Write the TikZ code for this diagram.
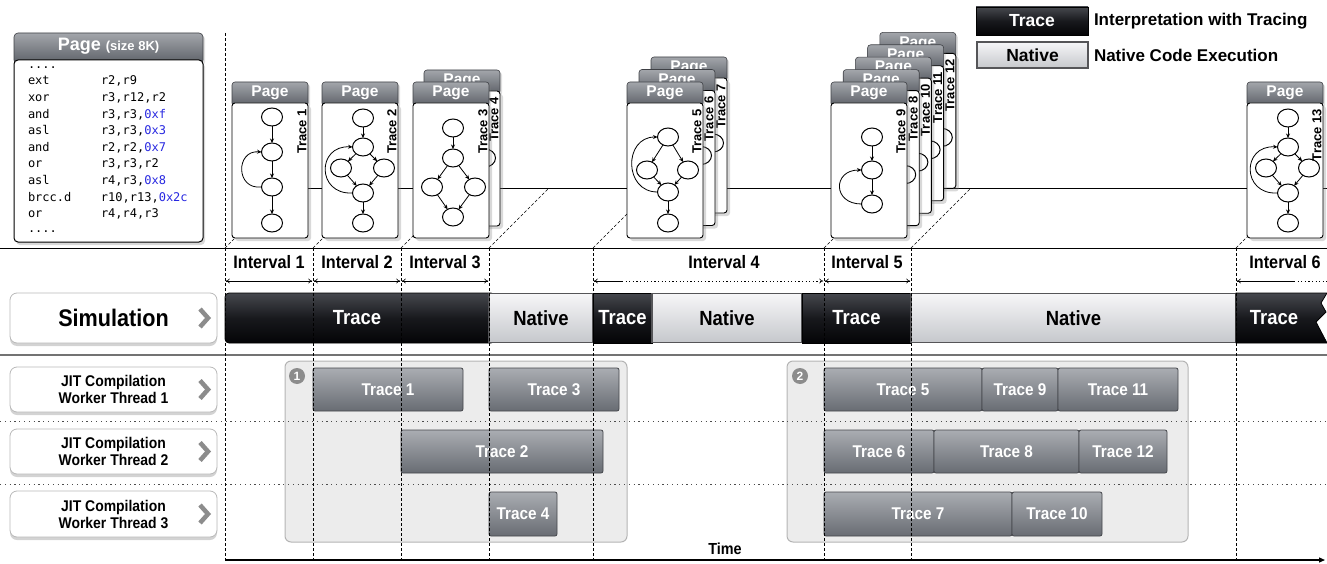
\documentclass[tikz,border=0pt]{standalone}
\usepackage{fontspec}
\setmainfont{Liberation Sans}
\newfontfamily\cond{Liberation Sans}[FakeStretch=0.9]
\newfontfamily\codef{DejaVu Sans Mono}
\usetikzlibrary{arrows.meta,shapes.geometric,shadows}
\definecolor{hdtop}{RGB}{163,166,171}
\definecolor{hdbot}{RGB}{92,96,103}
\definecolor{hdbd}{RGB}{62,64,69}
\definecolor{trtop}{RGB}{170,173,178}
\definecolor{trbot}{RGB}{104,108,115}
\definecolor{trbd}{RGB}{68,70,75}
\definecolor{grpfill}{RGB}{236,236,236}
\definecolor{grpbd}{RGB}{180,180,180}
\definecolor{bktop}{RGB}{70,72,78}
\definecolor{bkmid}{RGB}{24,25,29}
\definecolor{bkbot}{RGB}{4,4,6}
\definecolor{nvtop}{RGB}{246,246,248}
\definecolor{nvbot}{RGB}{198,200,204}
\definecolor{nvbd}{RGB}{85,85,88}
\definecolor{codeblue}{RGB}{40,40,225}
\definecolor{chevc}{RGB}{140,140,140}
\newcommand\fs[1]{\fontsize{#1}{#1}\selectfont}
\newcommand\hx[1]{\textcolor{codeblue}{#1}}
% graphs drawn inside a page (coordinates relative to the page's top-left corner)
\newcommand\gchain{%
  \node[gn] (a) at (40,35) {};
  \node[gn] (b) at (40,70) {};
  \node[gn] (c) at (40,105) {};
  \node[gn] (d) at (40,141) {};
  \draw[ge] (a) -- (b);
  \draw[ge] (b) -- (c);
  \draw[ge] (c) -- (d);
  \draw[ge] (c.west) .. controls +(-26,3) and +(-26,-2) .. (b.west);}
\newcommand\gdiamloop{%
  \node[gn] (a) at (41,36) {};
  \node[gn] (b) at (41,65) {};
  \node[gn] (c) at (19,86) {};
  \node[gn] (d) at (62,86) {};
  \node[gn] (e) at (41,111) {};
  \node[gn] (f) at (41,141) {};
  \draw[ge] (a) -- (b);
  \draw[ge] (b) -- (c);
  \draw[ge] (b) -- (d);
  \draw[ge] (c) -- (e);
  \draw[ge] (d) -- (e);
  \draw[ge] (e) -- (f);
  \draw[ge] (e.west) .. controls +(-36,2) and +(-36,-2) .. (b.west);}
\newcommand\gdiam{%
  \node[gn] (a) at (40,46) {};
  \node[gn] (b) at (40,76) {};
  \node[gn] (c) at (19,105) {};
  \node[gn] (d) at (62,105) {};
  \node[gn] (e) at (40,135) {};
  \draw[ge] (a) -- (b);
  \draw[ge] (b) -- (c);
  \draw[ge] (b) -- (d);
  \draw[ge] (c) -- (e);
  \draw[ge] (d) -- (e);}
\newcommand\gfiveloop{%
  \node[gn] (a) at (41,55) {};
  \node[gn] (b) at (20,88) {};
  \node[gn] (c) at (61,88) {};
  \node[gn] (d) at (41,110) {};
  \node[gn] (e) at (41,141) {};
  \draw[ge] (a) -- (b);
  \draw[ge] (a) -- (c);
  \draw[ge] (b) -- (d);
  \draw[ge] (c) -- (d);
  \draw[ge] (d) -- (e);
  \draw[ge] (d.west) .. controls +(-34,0) and +(-34,0) .. (a.west);}
\newcommand\gthree{%
  \node[gn] (a) at (41,55) {};
  \node[gn] (b) at (41,88) {};
  \node[gn] (c) at (41,122) {};
  \draw[ge] (a) -- (b);
  \draw[ge] (b) -- (c);
  \draw[ge] (c.west) .. controls +(-29,0) and +(-29,0) .. (b.west);}
% a page card: x, y, label, graph, name prefix
\newcommand\pagecard[5]{%
  \begin{scope}[shift={(#1,#2)}, name prefix=#5-]
    \node[pagehead] (head) at (0,0) {};
    \node[pagebody] (body) at (0,21) {};
    \node[headtxt] (htxt) at (38,11) {Page};
    #4
    \node[tracelbl] (lbl) at (70,27) {#3};
  \end{scope}}
\begin{document}
\begin{tikzpicture}[x=1pt,y=-1pt,
  every node/.style={inner sep=0pt, outer sep=0pt},
  gn/.style={ellipse, draw=black, line width=1pt, fill=white, minimum width=21pt, minimum height=18pt},
  ge/.style={line width=0.8pt, -{Stealth[length=4.5pt,width=4pt]}},
  pagehead/.style={anchor=north west, rounded corners=3pt, top color=hdtop, bottom color=hdbot, draw=hdbd, line width=0.6pt, minimum width=76pt, minimum height=24pt, drop shadow={shadow xshift=2pt, shadow yshift=-2pt, opacity=0.25}},
  pagebody/.style={anchor=north west, rounded corners=3pt, fill=white, draw=black, line width=0.9pt, minimum width=76pt, minimum height=135pt, drop shadow={shadow xshift=3pt, shadow yshift=-3pt, opacity=0.3}},
  headtxt/.style={text=white, font=\bfseries\fs{15.5}},
  tracelbl/.style={rotate=90, anchor=east, font=\bfseries\fs{13}},
  code/.style={anchor=base west, font=\codef\fs{12}},
  lblbox/.style={anchor=north west, draw=gray!55, line width=0.8pt, fill=white, rounded corners=7pt, minimum width=207pt, drop shadow={shadow xshift=0pt, shadow yshift=-3pt, opacity=0.35}},
  chev/.style={draw=chevc, line width=4.5pt, line join=miter},
  trbar/.style={anchor=west, top color=bktop, bottom color=bkbot, middle color=bkmid, draw=black, line width=0.8pt, minimum height=50pt, text=white, font=\cond\bfseries\fs{20.5}},
  nvbar/.style={anchor=west, top color=nvtop, bottom color=nvbot, draw=nvbd, line width=1.5pt, minimum height=49pt, text=black, font=\cond\bfseries\fs{20.5}},
  ivtxt/.style={font=\cond\bfseries\fs{18}},
  ivarrow/.style={line width=0.6pt, {To[length=4pt,width=5pt]}-{To[length=4pt,width=5pt]}, shorten <=0.8pt, shorten >=0.8pt},
  vdash/.style={line width=0.6pt, dash pattern=on 3pt off 2pt},
  hdot/.style={line width=0.8pt, black!70, dash pattern=on 1.2pt off 3.6pt},
  grp/.style={anchor=north west, fill=grpfill, draw=grpbd, line width=1pt, rounded corners=6pt},
  tbox/.style={anchor=north west, rounded corners=2pt, top color=trtop, bottom color=trbot, draw=trbd, line width=0.8pt, text=white, font=\cond\bfseries\fs{17}},
  numc/.style={circle, fill=black!45, minimum size=16pt, text=white, font=\bfseries\fs{12}},
  jittxt/.style={align=center, font=\cond\bfseries\fontsize{15.5}{17}\selectfont}
]
\useasboundingbox (0,0) rectangle (1327,564);

% ---------- base lines and boundary coordinates
\foreach \k/\x in {1/225,2/313,3/401,4/489,5/593,6/824,7/911,8/1236}{
  \coordinate (bt\k) at (\x,248);
  \coordinate (bb\k) at (\x,560);
  \coordinate (bd\k) at (\x+60,188);
  \coordinate (ba\k) at (\x,281);
}
\coordinate (topline) at (225,33);
\coordinate (hl0) at (0,248);
\coordinate (hl1) at (1327,248);
\coordinate (tl0) at (285,188);
\coordinate (tl1) at (1327,188);
\draw[line width=0.8pt] (hl0) -- (hl1);
\draw[line width=0.8pt] (tl0) -- (tl1);
\foreach \k in {1,...,8}{ \draw[vdash] (bt\k) -- (bd\k); }

% ---------- big page
\node[anchor=north west, rounded corners=4pt, top color=hdtop, bottom color=hdbot, draw=hdbd, line width=0.6pt, minimum width=189pt, minimum height=31pt, drop shadow={shadow xshift=2pt, shadow yshift=-2pt, opacity=0.25}] (bph) at (14,33) {};
\node[anchor=north west, rounded corners=4pt, fill=white, draw=black, line width=1pt, minimum width=189pt, minimum height=182pt, drop shadow={shadow xshift=2pt, shadow yshift=-3pt, opacity=0.3}] (bpb) at (14,60) {};
\node[text=white, font=\bfseries] (bpt) at (108.5,46.5) {\fs{18}Page \fs{13}(size 8K)};
\node[code] (c0) at (28,68.4) {....};
\node[code] (c1) at (28,85) {\makebox[73pt][l]{ext}r2,r9};
\node[code] (c2) at (28,101.6) {\makebox[73pt][l]{xor}r3,r12,r2};
\node[code] (c3) at (28,118.2) {\makebox[73pt][l]{and}r3,r3,\hx{0xf}};
\node[code] (c4) at (28,134.8) {\makebox[73pt][l]{asl}r3,r3,\hx{0x3}};
\node[code] (c5) at (28,151.4) {\makebox[73pt][l]{and}r2,r2,\hx{0x7}};
\node[code] (c6) at (28,168) {\makebox[73pt][l]{or}r3,r3,r2};
\node[code] (c7) at (28,184.6) {\makebox[73pt][l]{asl}r4,r3,\hx{0x8}};
\node[code] (c8) at (28,201.2) {\makebox[73pt][l]{brcc.d}r10,r13,\hx{0x2c}};
\node[code] (c9) at (28,217.8) {\makebox[73pt][l]{or}r4,r4,r3};
\node[code] (c10) at (28,232.4) {....};

% ---------- legend
\node[anchor=north west, top color=bktop, bottom color=bkbot, middle color=bkmid, draw=black, line width=0.8pt, minimum width=112pt, minimum height=28pt, text=white, font=\bfseries\fs{17.5}] (lt) at (976,7) {Trace};
\node[anchor=north west, top color=nvtop, bottom color=nvbot, draw=nvbd, line width=2pt, minimum width=111pt, minimum height=26pt, font=\bfseries\fs{17.5}] (ln) at (977,42) {Native};
\node[anchor=west, font=\bfseries\fs{17}] (ltt) at (1094,21) {Interpretation with Tracing};
\node[anchor=west, font=\bfseries\fs{17}] (lnt) at (1094,55) {Native Code Execution};

% ---------- pages
\pagecard{232}{82}{Trace 1}{\gchain}{p1}
\pagecard{322}{82}{Trace 2}{\gdiamloop}{p2}
\pagecard{424}{70}{Trace 4}{\gfiveloop}{p4}
\pagecard{413}{82}{Trace 3}{\gdiam}{p3}
\pagecard{651}{57}{Trace 7}{\gdiamloop}{p7}
\pagecard{639}{69.5}{Trace 6}{\gdiamloop}{p6}
\pagecard{627}{82}{Trace 5}{\gfiveloop}{p5}
\pagecard{879.8}{32.4}{Trace 12}{\gdiam}{p12}
\pagecard{867.6}{44.8}{Trace 11}{\gdiam}{p11}
\pagecard{855.4}{57.2}{Trace 10}{\gdiam}{p10}
\pagecard{843.2}{69.6}{Trace 8}{\gdiam}{p8}
\pagecard{831}{82}{Trace 9}{\gthree}{p9}
\pagecard{1247}{82}{Trace 13}{\gdiamloop}{p13}

% ---------- intervals
\node[ivtxt] (iv1) at (269,262) {Interval 1};
\node[ivtxt] (iv2) at (357,262) {Interval 2};
\node[ivtxt] (iv3) at (445,262) {Interval 3};
\node[ivtxt] (iv4) at (724,262) {Interval 4};
\node[ivtxt] (iv5) at (867,262) {Interval 5};
\node[ivtxt] (iv6) at (1285,262) {Interval 6};
\draw[ivarrow] (ba1) -- (ba2);
\draw[ivarrow] (ba2) -- (ba3);
\draw[ivarrow] (ba3) -- (ba4);
\coordinate (i4a) at (622,281);
\draw[line width=0.6pt, {To[length=4pt,width=5pt]}-, shorten <=0.8pt] (ba5) -- (i4a);
\draw[line width=0.6pt, dash pattern=on 1.2pt off 2.4pt, -{To[length=4pt,width=5pt]}, shorten >=0.8pt] (i4a) -- (ba6);
\draw[ivarrow] (ba6) -- (ba7);
\coordinate (i6a) at (1294,281);
\coordinate (i6b) at (1327,281);
\draw[line width=0.6pt, {To[length=4pt,width=5pt]}-, shorten <=0.8pt] (ba8) -- (i6a);
\draw[line width=0.6pt, dash pattern=on 1.2pt off 2.4pt] (i6a) -- (i6b);

% ---------- simulation row
\node[lblbox, minimum height=50pt, font=\cond\bfseries\fs{24}] (simb) at (10,293) {Simulation};
\draw[chev] (200,309) -- (208,318) -- (200,327);
\node[trbar, rounded corners=4pt, minimum width=270pt] (s1) at (225,318) {\hspace*{-6pt}Trace};
\node[nvbar, minimum width=104pt] (s2) at (489,318) {Native};
\node[trbar, minimum width=59pt] (s3) at (593,318) {Trace};
\node[nvbar, minimum width=150pt] (s4) at (652,318) {Native};
\node[trbar, minimum width=109pt] (s5) at (802,318) {Trace};
\node[nvbar, minimum width=325pt] (s6) at (911,318) {Native};
\path[top color=bktop, bottom color=bkbot, middle color=bkmid, draw=black, line width=0.8pt]
  (1236,293) -- (1327,293) -- (1321,303) -- (1326,312) -- (1316,322) -- (1327,343) -- (1236,343) -- cycle;
\node[text=white, font=\cond\bfseries\fs{20.5}] (s7) at (1274,318) {Trace};

\coordinate (sp0) at (0,355);
\coordinate (sp1) at (1327,355);
\draw[black!55, line width=1.5pt] (sp0) -- (sp1);

% ---------- JIT rows
\node[lblbox, minimum height=45pt, jittxt] (j1) at (10,367) {JIT Compilation\\Worker Thread 1};
\node[lblbox, minimum height=45pt, jittxt] (j2) at (10,429) {JIT Compilation\\Worker Thread 2};
\node[lblbox, minimum height=46pt, jittxt] (j3) at (10,491) {JIT Compilation\\Worker Thread 3};
\draw[chev] (200,380.5) -- (208,389.5) -- (200,398.5);
\draw[chev] (200,442.5) -- (208,451.5) -- (200,460.5);
\draw[chev] (200,505) -- (208,514) -- (200,523);

\node[grp, minimum width=342pt, minimum height=181pt] (g1) at (285,361) {};
\node[grp, minimum width=401pt, minimum height=181pt] (g2) at (787,361) {};

\coordinate (d1a) at (0,421);
\coordinate (d1b) at (1327,421);
\coordinate (d2a) at (0,484);
\coordinate (d2b) at (1327,484);
\draw[hdot] (d1a) -- (d1b);
\draw[hdot] (d2a) -- (d2b);

\node[numc] (n1) at (297,376) {1};
\node[numc] (n2) at (800,376) {2};

\node[tbox, minimum width=150pt, minimum height=43pt] (t1) at (313,368) {Trace 1};
\node[tbox, minimum width=130pt, minimum height=43pt] (t3) at (489,368) {Trace 3};
\node[tbox, minimum width=202pt, minimum height=43pt] (t2) at (401,430) {Trace 2};
\node[tbox, minimum width=68pt, minimum height=44pt] (t4) at (489,492) {Trace 4};
\node[tbox, minimum width=158pt, minimum height=43pt] (t5) at (824,368) {Trace 5};
\node[tbox, minimum width=76pt, minimum height=43pt] (t9) at (982,368) {Trace 9};
\node[tbox, minimum width=120pt, minimum height=43pt] (t11) at (1058,368) {Trace 11};
\node[tbox, minimum width=110pt, minimum height=43pt] (t6) at (824,430) {Trace 6};
\node[tbox, minimum width=145pt, minimum height=43pt] (t8) at (934,430) {Trace 8};
\node[tbox, minimum width=88pt, minimum height=43pt] (t12) at (1079,430) {Trace 12};
\node[tbox, minimum width=188pt, minimum height=44pt] (t7) at (824,492) {Trace 7};
\node[tbox, minimum width=90pt, minimum height=44pt] (t10) at (1012,492) {Trace 10};

% ---------- vertical dashed boundaries (on top)
\draw[vdash] (topline) -- (bb1);
\foreach \k in {2,...,8}{ \draw[vdash] (bt\k) -- (bb\k); }

% ---------- time axis
\coordinate (ta1) at (1325,560);
\draw[line width=1.2pt, -{Triangle[length=6pt,width=5pt]}] (bb1) -- (ta1);
\node[font=\cond\bfseries\fs{16}] (time) at (725,549) {Time};
\end{tikzpicture}
\end{document}
